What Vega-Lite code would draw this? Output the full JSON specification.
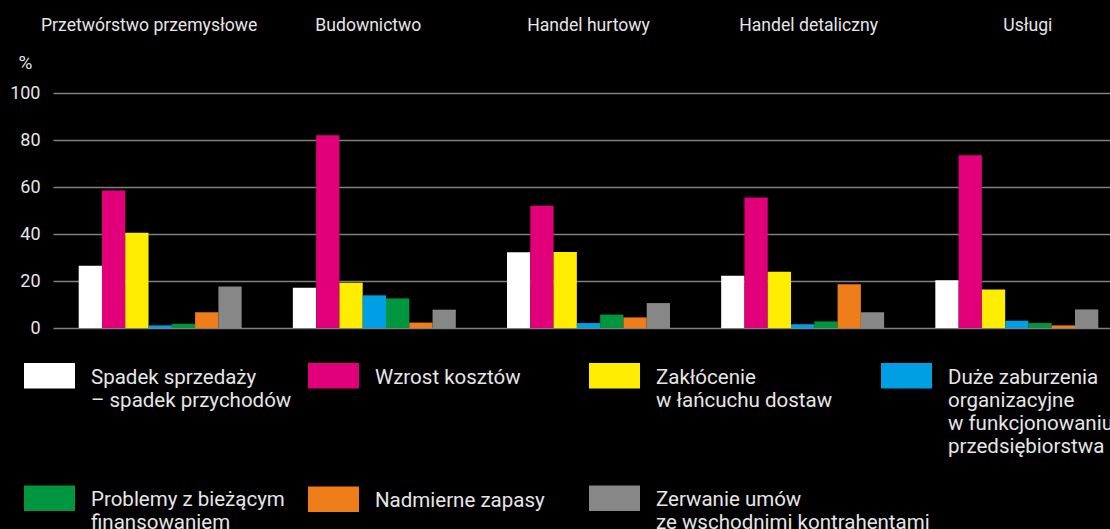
{
  "$schema": "https://vega.github.io/schema/vega-lite/v6.json",
  "autosize": "none",
  "padding": {"left": 53, "top": 93, "right": 0, "bottom": 201},
  "width": 1057,
  "height": 235,
  "background": "#000000",
  "config": {
    "view": {"stroke": null},
    "font": "Roboto",
    "style": {"guide-label": {"lineHeight": 23.3}},
    "legend": {
      "orient": "none",
      "direction": "vertical",
      "title": null,
      "padding": 0,
      "symbolType": "M-1,-0.8H1V0.2H-1Z",
      "symbolSize": 2601,
      "symbolStrokeWidth": 0,
      "symbolOpacity": 1,
      "labelFontSize": 20.5,
      "labelColor": "#e6e6e6",
      "labelOffset": 16,
      "labelLimit": 0,
      "labelBaseline": "alphabetic"
    }
  },
  "data": {
    "values": [
      {"sektor": "Przetwórstwo przemysłowe", "kategoria": "Spadek sprzedaży\n – spadek przychodów", "wartosc": 26.5},
      {"sektor": "Przetwórstwo przemysłowe", "kategoria": "Wzrost kosztów", "wartosc": 58.5},
      {"sektor": "Przetwórstwo przemysłowe", "kategoria": "Zakłócenie\nw łańcuchu dostaw", "wartosc": 40.5},
      {"sektor": "Przetwórstwo przemysłowe", "kategoria": "Duże zaburzenia\norganizacyjne\nw funkcjonowaniu\nprzedsiębiorstwa", "wartosc": 1.1},
      {"sektor": "Przetwórstwo przemysłowe", "kategoria": "Problemy z bieżącym\nfinansowaniem", "wartosc": 1.8},
      {"sektor": "Przetwórstwo przemysłowe", "kategoria": "Nadmierne zapasy", "wartosc": 6.7},
      {"sektor": "Przetwórstwo przemysłowe", "kategoria": "Zerwanie umów\nze wschodnimi kontrahentami", "wartosc": 17.7},
      {"sektor": "Budownictwo", "kategoria": "Spadek sprzedaży\n – spadek przychodów", "wartosc": 17.1},
      {"sektor": "Budownictwo", "kategoria": "Wzrost kosztów", "wartosc": 82.0},
      {"sektor": "Budownictwo", "kategoria": "Zakłócenie\nw łańcuchu dostaw", "wartosc": 19.3},
      {"sektor": "Budownictwo", "kategoria": "Duże zaburzenia\norganizacyjne\nw funkcjonowaniu\nprzedsiębiorstwa", "wartosc": 13.9},
      {"sektor": "Budownictwo", "kategoria": "Problemy z bieżącym\nfinansowaniem", "wartosc": 12.6},
      {"sektor": "Budownictwo", "kategoria": "Nadmierne zapasy", "wartosc": 2.3},
      {"sektor": "Budownictwo", "kategoria": "Zerwanie umów\nze wschodnimi kontrahentami", "wartosc": 7.8},
      {"sektor": "Handel hurtowy", "kategoria": "Spadek sprzedaży\n – spadek przychodów", "wartosc": 32.2},
      {"sektor": "Handel hurtowy", "kategoria": "Wzrost kosztów", "wartosc": 52.0},
      {"sektor": "Handel hurtowy", "kategoria": "Zakłócenie\nw łańcuchu dostaw", "wartosc": 32.3},
      {"sektor": "Handel hurtowy", "kategoria": "Duże zaburzenia\norganizacyjne\nw funkcjonowaniu\nprzedsiębiorstwa", "wartosc": 2.1},
      {"sektor": "Handel hurtowy", "kategoria": "Problemy z bieżącym\nfinansowaniem", "wartosc": 5.7},
      {"sektor": "Handel hurtowy", "kategoria": "Nadmierne zapasy", "wartosc": 4.5},
      {"sektor": "Handel hurtowy", "kategoria": "Zerwanie umów\nze wschodnimi kontrahentami", "wartosc": 10.6},
      {"sektor": "Handel detaliczny", "kategoria": "Spadek sprzedaży\n – spadek przychodów", "wartosc": 22.2},
      {"sektor": "Handel detaliczny", "kategoria": "Wzrost kosztów", "wartosc": 55.5},
      {"sektor": "Handel detaliczny", "kategoria": "Zakłócenie\nw łańcuchu dostaw", "wartosc": 23.9},
      {"sektor": "Handel detaliczny", "kategoria": "Duże zaburzenia\norganizacyjne\nw funkcjonowaniu\nprzedsiębiorstwa", "wartosc": 1.6},
      {"sektor": "Handel detaliczny", "kategoria": "Problemy z bieżącym\nfinansowaniem", "wartosc": 2.8},
      {"sektor": "Handel detaliczny", "kategoria": "Nadmierne zapasy", "wartosc": 18.6},
      {"sektor": "Handel detaliczny", "kategoria": "Zerwanie umów\nze wschodnimi kontrahentami", "wartosc": 6.7},
      {"sektor": "Usługi", "kategoria": "Spadek sprzedaży\n – spadek przychodów", "wartosc": 20.3},
      {"sektor": "Usługi", "kategoria": "Wzrost kosztów", "wartosc": 73.5},
      {"sektor": "Usługi", "kategoria": "Zakłócenie\nw łańcuchu dostaw", "wartosc": 16.4},
      {"sektor": "Usługi", "kategoria": "Duże zaburzenia\norganizacyjne\nw funkcjonowaniu\nprzedsiębiorstwa", "wartosc": 3.1},
      {"sektor": "Usługi", "kategoria": "Problemy z bieżącym\nfinansowaniem", "wartosc": 2.1},
      {"sektor": "Usługi", "kategoria": "Nadmierne zapasy", "wartosc": 1.1},
      {"sektor": "Usługi", "kategoria": "Zerwanie umów\nze wschodnimi kontrahentami", "wartosc": 7.9}
    ]
  },
  "encoding": {
    "x": {
      "field": "sektor",
      "type": "nominal",
      "sort": ["Przetwórstwo przemysłowe", "Budownictwo", "Handel hurtowy", "Handel detaliczny", "Usługi"],
      "scale": {"range": [0, 1071], "paddingInner": 0.239, "paddingOuter": 0.12},
      "axis": {
        "orient": "top",
        "title": null,
        "ticks": false,
        "tickSize": 0,
        "domain": false,
        "labelAngle": 0,
        "labelPadding": 62.5,
        "labelBaseline": "alphabetic",
        "labelFontSize": 17.6,
        "labelColor": "#e6e6e6",
        "labelLimit": 0,
        "labelOffset": {
          "condition": [
            {"test": "datum.value === 'Przetwórstwo przemysłowe'", "value": -11},
            {"test": "datum.value === 'Budownictwo'", "value": -6},
            {"test": "datum.value === 'Handel detaliczny'", "value": 6},
            {"test": "datum.value === 'Usługi'", "value": 11}
          ],
          "value": 0
        }
      }
    },
    "xOffset": {
      "field": "kategoria",
      "type": "nominal",
      "sort": ["Spadek sprzedaży\n – spadek przychodów", "Wzrost kosztów", "Zakłócenie\nw łańcuchu dostaw", "Duże zaburzenia\norganizacyjne\nw funkcjonowaniu\nprzedsiębiorstwa", "Problemy z bieżącym\nfinansowaniem", "Nadmierne zapasy", "Zerwanie umów\nze wschodnimi kontrahentami"],
      "scale": {"paddingInner": 0, "paddingOuter": 0}
    },
    "y": {
      "field": "wartosc",
      "type": "quantitative",
      "scale": {"domain": [0, 100]},
      "axis": {
        "values": [0, 20, 40, 60, 80, 100],
        "title": "%",
        "titleAngle": 0,
        "titleX": -28,
        "titleY": -31,
        "titleAlign": "center",
        "titleBaseline": "middle",
        "titleFontSize": 19,
        "titleFontWeight": "normal",
        "titleColor": "#e6e6e6",
        "grid": true,
        "gridColor": "#808080",
        "gridWidth": 1.5,
        "domain": false,
        "ticks": false,
        "tickSize": 0,
        "labelPadding": 13,
        "labelFontSize": 18,
        "labelColor": "#e6e6e6"
      }
    }
  },
  "layer": [
    {
      "mark": {"type": "bar"},
      "encoding": {
        "color": {
          "field": "kategoria",
          "type": "nominal",
          "sort": ["Spadek sprzedaży\n – spadek przychodów", "Wzrost kosztów", "Zakłócenie\nw łańcuchu dostaw", "Duże zaburzenia\norganizacyjne\nw funkcjonowaniu\nprzedsiębiorstwa", "Problemy z bieżącym\nfinansowaniem", "Nadmierne zapasy", "Zerwanie umów\nze wschodnimi kontrahentami"],
          "scale": {
            "domain": ["Spadek sprzedaży\n – spadek przychodów", "Wzrost kosztów", "Zakłócenie\nw łańcuchu dostaw", "Duże zaburzenia\norganizacyjne\nw funkcjonowaniu\nprzedsiębiorstwa", "Problemy z bieżącym\nfinansowaniem", "Nadmierne zapasy", "Zerwanie umów\nze wschodnimi kontrahentami"],
            "range": ["#ffffff", "#e2007a", "#ffed00", "#009fe3", "#009640", "#ef7d1a", "#878787"]
          },
          "legend": {
            "values": ["Spadek sprzedaży\n – spadek przychodów", "Problemy z bieżącym\nfinansowaniem"],
            "labelExpr": "split(replace(datum.label, '\\n ', '\\n\\u00a0'), '\\n')",
            "legendX": -29,
            "legendY": 265,
            "rowPadding": 68.5
          }
        }
      }
    },
    {
      "transform": [{"filter": "false"}],
      "mark": {"type": "bar"},
      "encoding": {
        "color": {
          "field": "kategoria",
          "type": "nominal",
          "legend": {
            "values": ["Wzrost kosztów", "Nadmierne zapasy"],
            "labelExpr": "split(datum.label, '\\n')",
            "legendX": 255,
            "legendY": 265,
            "rowPadding": 92.5
          }
        }
      }
    },
    {
      "transform": [{"filter": "false"}],
      "mark": {"type": "bar"},
      "encoding": {
        "color": {
          "field": "kategoria",
          "type": "nominal",
          "legend": {
            "values": ["Zakłócenie\nw łańcuchu dostaw", "Zerwanie umów\nze wschodnimi kontrahentami"],
            "labelExpr": "split(datum.label, '\\n')",
            "legendX": 536,
            "legendY": 265,
            "rowPadding": 68.5
          }
        }
      }
    },
    {
      "transform": [{"filter": "false"}],
      "mark": {"type": "bar"},
      "encoding": {
        "color": {
          "field": "kategoria",
          "type": "nominal",
          "legend": {
            "values": ["Duże zaburzenia\norganizacyjne\nw funkcjonowaniu\nprzedsiębiorstwa"],
            "labelExpr": "split(datum.label, '\\n')",
            "legendX": 828,
            "legendY": 265
          }
        }
      }
    }
  ],
  "resolve": {"legend": {"color": "independent"}}
}
